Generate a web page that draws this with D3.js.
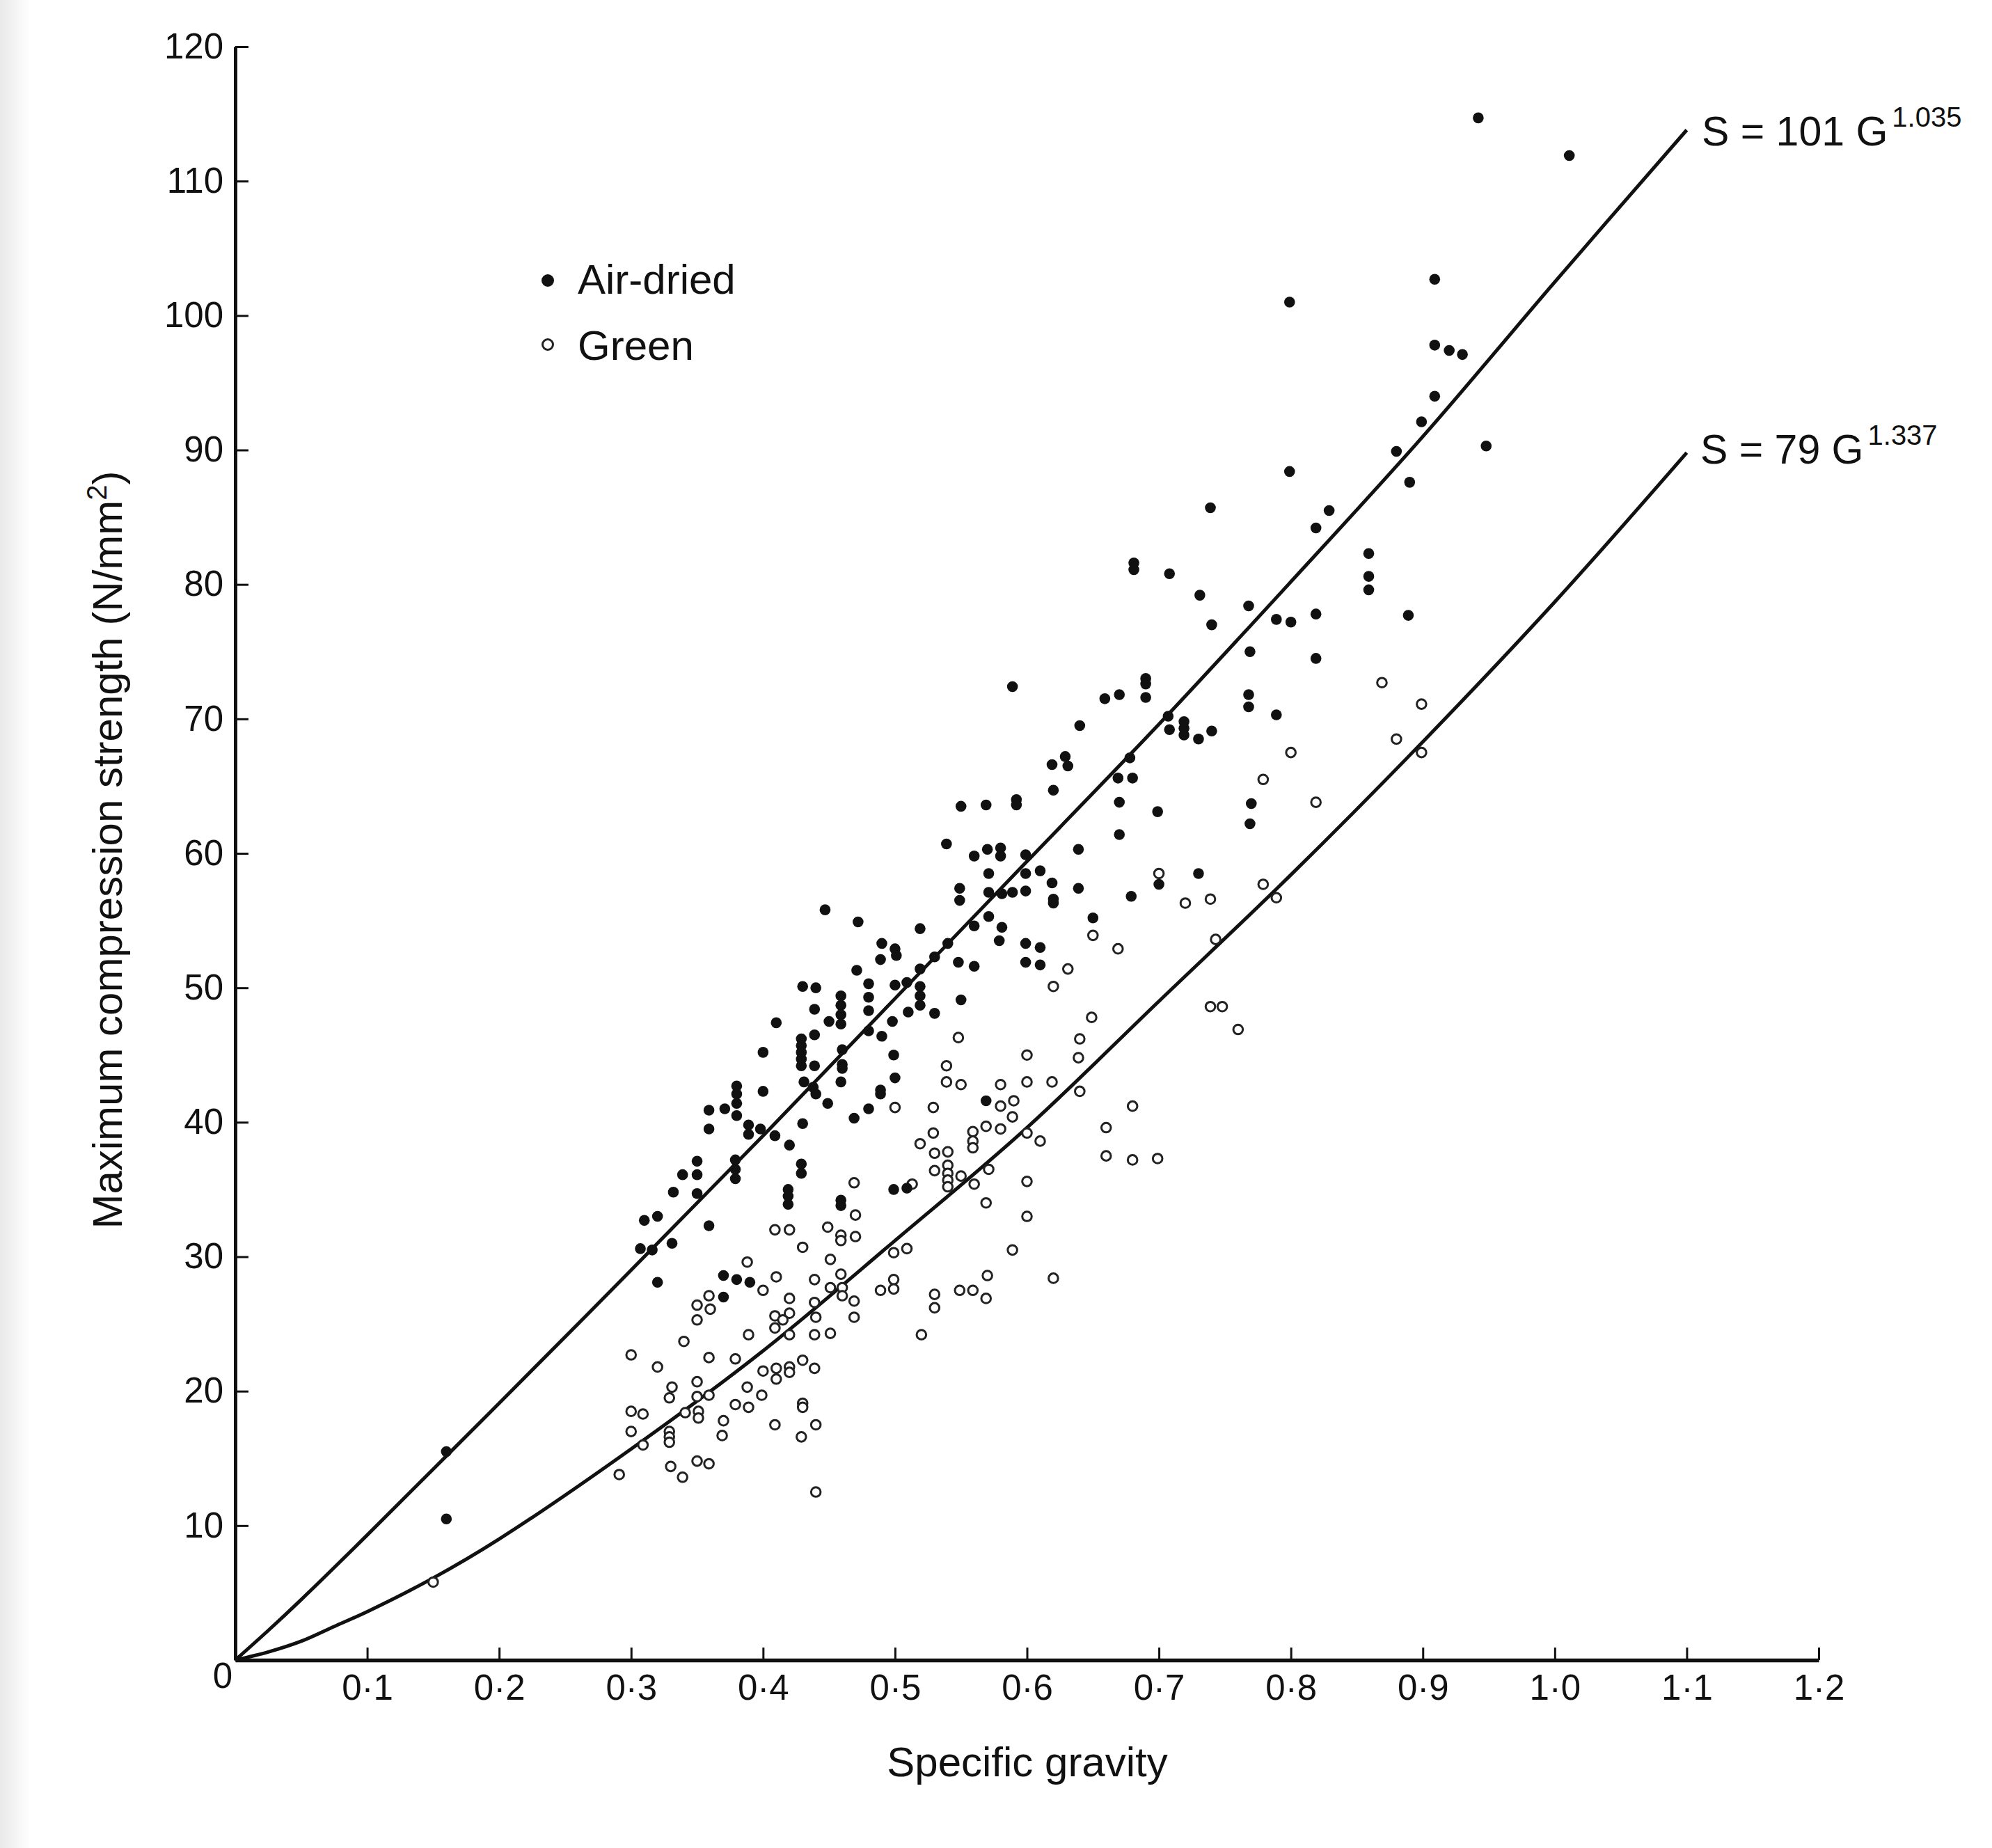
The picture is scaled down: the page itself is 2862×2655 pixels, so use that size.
<!DOCTYPE html>
<html>
<head>
<meta charset="utf-8">
<title>Compression strength vs specific gravity</title>
<script src="https://cdn.jsdelivr.net/npm/d3@7"></script>
<style>
  html, body { margin: 0; padding: 0; background: #fff; }
  svg { display: block; }
</style>
</head>
<body>
<div id="chart"></div>
<script>
// --- data (G = specific gravity, S = N/mm2) ---
const airDried = [
  [0.16,15.5],[0.16,10.5],
  [0.320,28.1],[0.370,28.6],[0.380,28.3],[0.390,28.1],[0.370,27.0],
  [0.490,53.3],[0.500,52.9],[0.501,52.4],[0.489,52.1],[0.471,51.3],[0.430,50.1],[0.440,50.0],
  [0.480,50.3],[0.480,49.3],[0.480,48.3],[0.480,46.8],[0.500,50.2],[0.509,50.4],
  [0.459,49.4],[0.459,48.7],[0.459,48.0],[0.459,47.3],
  [0.439,48.4],[0.450,47.5],[0.410,47.4],[0.498,47.5],[0.490,46.4],[0.510,48.2],
  [0.439,46.5],[0.429,46.2],[0.429,45.7],[0.429,45.2],[0.429,44.7],[0.429,44.2],
  [0.400,45.2],[0.439,44.2],[0.460,45.4],[0.460,44.3],[0.460,44.0],[0.459,43.0],[0.499,45.0],[0.500,43.3],
  [0.431,43.0],[0.438,42.6],[0.440,42.1],[0.449,41.4],[0.489,42.4],[0.489,42.1],[0.480,41.0],[0.469,40.3],
  [0.380,42.7],[0.380,42.1],[0.380,41.4],[0.380,40.5],[0.400,42.3],[0.359,40.9],[0.371,41.0],[0.359,39.5],
  [0.389,39.8],[0.389,39.1],[0.398,39.5],[0.409,39.0],[0.420,38.3],[0.430,39.9],[0.429,36.9],[0.429,36.2],
  [0.419,35.0],[0.419,34.5],[0.419,33.9],[0.459,34.2],[0.459,33.8],[0.499,35.0],[0.509,35.1],
  [0.379,37.2],[0.379,36.5],[0.379,35.8],[0.350,37.1],[0.350,36.1],[0.339,36.1],[0.332,34.8],[0.350,34.7],
  [0.320,33.0],[0.310,32.7],[0.359,32.3],[0.331,31.0],[0.307,30.6],[0.316,30.5],
  [0.447,55.8],[0.472,54.9],
  [0.579,53.5],[0.599,53.3],[0.610,53.0],[0.540,53.3],[0.530,52.3],[0.519,51.4],[0.548,51.9],[0.560,51.6],
  [0.599,51.9],[0.610,51.7],[0.519,50.1],[0.519,49.4],[0.519,48.7],[0.550,49.1],[0.530,48.1],[0.569,41.6],
  [0.740,77.0],[0.589,72.4],[0.690,73.0],[0.690,72.6],[0.690,71.6],[0.659,71.5],[0.670,71.8],[0.640,69.5],
  [0.707,70.2],[0.708,69.2],[0.719,69.8],[0.719,69.3],[0.719,68.8],[0.730,68.5],[0.740,69.1],
  [0.629,67.2],[0.631,66.5],[0.619,66.6],[0.678,67.1],[0.669,65.6],[0.680,65.6],[0.620,64.7],
  [0.550,63.5],[0.569,63.6],[0.592,64.0],[0.592,63.6],[0.670,63.8],[0.699,63.1],[0.670,61.4],
  [0.539,60.7],[0.639,60.3],[0.560,59.8],[0.570,60.3],[0.580,60.4],[0.580,59.8],[0.599,59.9],
  [0.571,58.5],[0.599,58.5],[0.610,58.7],[0.619,57.8],[0.639,57.4],[0.549,57.4],[0.549,56.5],
  [0.571,57.1],[0.581,57.0],[0.589,57.1],[0.599,57.2],[0.620,56.6],[0.620,56.3],[0.730,58.5],[0.700,57.7],
  [0.679,56.8],[0.650,55.2],[0.519,54.4],[0.560,54.6],[0.571,55.3],[0.581,54.5],
  [0.681,81.6],[0.681,81.1],[0.708,80.8],[0.731,79.2],[0.739,85.7],
  [0.942,114.7],[1.011,111.9],[0.909,102.7],[0.799,101.0],[0.909,97.8],[0.920,97.4],[0.930,97.1],
  [0.909,94.0],[0.899,92.1],[0.880,89.9],[0.948,90.3],[0.799,88.4],[0.890,87.6],[0.829,85.5],[0.819,84.2],
  [0.859,82.3],[0.859,80.6],[0.859,79.6],[0.768,78.4],[0.789,77.4],[0.800,77.2],[0.819,77.8],[0.889,77.7],
  [0.769,75.0],[0.819,74.5],[0.768,71.8],[0.768,70.9],[0.789,70.3],[0.770,63.7],[0.769,62.2]
];

const green = [
  [0.15,5.8],
  [0.388,29.6],[0.451,29.8],[0.499,30.3],[0.410,28.5],[0.439,28.3],[0.459,28.7],[0.400,27.5],[0.451,27.7],
  [0.460,27.7],[0.460,27.1],[0.469,26.7],[0.469,25.5],[0.499,28.3],[0.499,27.6],[0.489,27.5],[0.359,27.1],
  [0.350,26.4],[0.360,26.1],[0.350,25.3],[0.420,26.9],[0.420,25.8],[0.420,24.2],[0.409,25.6],[0.409,24.7],
  [0.415,25.3],[0.439,26.6],[0.440,25.5],[0.439,24.2],[0.451,24.3],[0.389,24.2],[0.340,23.7],[0.300,22.7],
  [0.320,21.8],[0.359,22.5],[0.379,22.4],[0.400,21.5],[0.410,21.7],[0.410,20.9],[0.420,21.8],[0.420,21.4],
  [0.430,22.3],[0.439,21.7],[0.350,20.7],[0.331,20.3],[0.329,19.5],[0.388,20.3],[0.399,19.7],[0.359,19.7],
  [0.350,19.6],[0.351,18.5],[0.351,18.0],[0.341,18.4],[0.379,19.0],[0.389,18.8],[0.300,18.5],[0.309,18.3],
  [0.370,17.8],[0.369,16.7],[0.329,17.0],[0.329,16.6],[0.329,16.2],[0.300,17.0],[0.309,16.0],[0.409,17.5],
  [0.430,19.1],[0.430,18.8],[0.440,17.5],[0.429,16.6],[0.330,14.4],[0.339,13.6],[0.350,14.8],[0.359,14.6],
  [0.291,13.8],[0.440,12.5],
  [0.500,41.1],[0.469,35.5],[0.470,33.1],[0.470,31.5],[0.409,32.0],[0.420,32.0],[0.449,32.2],[0.459,31.6],
  [0.459,31.2],[0.430,30.7],[0.509,30.6],
  [0.650,53.9],[0.669,52.9],[0.631,51.4],[0.620,50.1],[0.649,47.8],[0.548,46.3],[0.640,46.2],[0.639,44.8],
  [0.600,45.0],[0.539,44.2],[0.539,43.0],[0.550,42.8],[0.580,42.8],[0.600,43.0],[0.619,43.0],[0.640,42.3],
  [0.580,41.2],[0.590,41.6],[0.589,40.4],[0.529,41.1],[0.569,39.7],[0.580,39.5],[0.600,39.2],[0.610,38.6],
  [0.680,41.2],[0.529,39.2],[0.519,38.4],[0.559,39.3],[0.559,38.6],[0.559,38.1],[0.530,37.7],[0.540,37.8],
  [0.540,36.8],[0.530,36.4],[0.540,36.2],[0.540,35.7],[0.540,35.2],[0.550,36.0],[0.513,35.4],[0.560,35.4],
  [0.571,36.5],[0.600,35.6],[0.660,39.6],[0.660,37.5],[0.680,37.2],[0.699,37.3],[0.569,34.0],[0.600,33.0],
  [0.589,30.5],[0.739,48.6],[0.748,48.6],[0.760,46.9],[0.743,53.6],
  [0.570,28.6],[0.620,28.4],[0.530,27.2],[0.530,26.2],[0.549,27.5],[0.559,27.5],[0.569,26.9],[0.520,24.2],
  [0.700,58.5],[0.720,56.3],[0.739,56.6],
  [0.869,72.7],[0.899,71.1],[0.880,68.5],[0.899,67.5],[0.800,67.5],[0.779,65.5],[0.819,63.8],[0.779,57.7],[0.789,56.7]
];

// fitted curves
const airDriedCurve = [[0,0],[0.025,2.2],[0.05,4.5],[0.1,9.3],[0.15,14.2],[0.2,19.1],[0.3,29.0],[0.4,39.0],
  [0.5,49.2],[0.6,59.4],[0.7,69.6],[0.8,80.2],[0.9,91.0],[1.0,102.5],[1.1,113.8]];
const greenCurve = [[0,0],[0.025,0.6],[0.05,1.4],[0.075,2.5],[0.1,3.6],[0.15,6.1],[0.2,9.0],[0.3,15.7],
  [0.4,23.0],[0.5,31.2],[0.6,39.6],[0.7,49.0],[0.8,58.4],[0.9,68.3],[1.0,78.7],[1.1,89.8]];

const xTicks = [0.1,0.2,0.3,0.4,0.5,0.6,0.7,0.8,0.9,1.0,1.1,1.2];
const yTicks = [10,20,30,40,50,60,70,80,90,100,110,120];

const W = 2862, H = 2655;
const FONT = "'Liberation Sans', Arial, Helvetica, sans-serif";

const svg = d3.select("#chart").append("svg")
  .attr("width", W).attr("height", H)
  .attr("viewBox", [0, 0, W, H])
  .style("font-family", FONT);

// page background, slightly grey binding edge on the left like the scan
const defs = svg.append("defs");
const grad = defs.append("linearGradient").attr("id", "edge").attr("x1", 0).attr("x2", 1);
grad.append("stop").attr("offset", 0).attr("stop-color", "#e9e9e9");
grad.append("stop").attr("offset", 1).attr("stop-color", "#ffffff");
svg.append("rect").attr("width", W).attr("height", H).attr("fill", "#fff");
svg.append("rect").attr("width", 44).attr("height", H).attr("fill", "url(#edge)");

const x = d3.scaleLinear().domain([0, 1.2]).range([338, 2613]);
const y = d3.scaleLinear().domain([0, 120]).range([2385, 67]);

// axes: ticks point inward
const fmtX = d => d3.format(".1f")(d).replace(".", "\u00b7");

const gx = svg.append("g")
  .attr("transform", `translate(0,${y(0)})`)
  .call(d3.axisBottom(x).tickValues(xTicks).tickFormat(fmtX)
    .tickSizeInner(-18).tickSizeOuter(0).tickPadding(20));

const gy = svg.append("g")
  .attr("transform", `translate(${x(0)},0)`)
  .call(d3.axisLeft(y).tickValues(yTicks).tickFormat(d3.format("d"))
    .tickSizeInner(-19).tickSizeOuter(0).tickPadding(17));

gx.select(".domain").attr("stroke", "#111").attr("stroke-width", 5.5);
gy.select(".domain").attr("stroke", "#111").attr("stroke-width", 5);
svg.selectAll(".tick line").attr("stroke", "#111").attr("stroke-width", 3);
svg.selectAll(".tick text")
  .attr("fill", "#111")
  .attr("font-family", FONT)
  .attr("font-size", 51);
gx.selectAll(".tick text").attr("dy", "0.72em");

// shared origin label
svg.append("text")
  .attr("x", x(0) - 18).attr("y", y(0) + 40)
  .attr("text-anchor", "middle")
  .attr("font-size", 51).attr("fill", "#111")
  .text("0");

// fitted curves
const line = d3.line()
  .x(d => x(d[0])).y(d => y(d[1]))
  .curve(d3.curveCatmullRom.alpha(0.5));

svg.append("path").datum(airDriedCurve)
  .attr("d", line).attr("fill", "none")
  .attr("stroke", "#111").attr("stroke-width", 5);
svg.append("path").datum(greenCurve)
  .attr("d", line).attr("fill", "none")
  .attr("stroke", "#111").attr("stroke-width", 5);

// points
svg.append("g").selectAll("circle")
  .data(green).join("circle")
  .attr("cx", d => x(d[0])).attr("cy", d => y(d[1]))
  .attr("r", 6.8)
  .attr("fill", "#fff").attr("stroke", "#222").attr("stroke-width", 3);

svg.append("g").selectAll("circle")
  .data(airDried).join("circle")
  .attr("cx", d => x(d[0])).attr("cy", d => y(d[1]))
  .attr("r", 7.8)
  .attr("fill", "#111");

// equation labels at the curve ends
const eqs = [
  { x: 2445, y: 209, main: "S = 101 G", sup: "1.035" },
  { x: 2443, y: 666, main: "S = 79 G", sup: "1.337" }
];
eqs.forEach(e => {
  const t = svg.append("text")
    .attr("x", e.x).attr("y", e.y)
    .attr("font-size", 59).attr("fill", "#111");
  t.append("tspan").text(e.main);
  t.append("tspan").attr("dx", 6).attr("dy", -27).attr("font-size", 40).text(e.sup);
});

// legend
const legend = svg.append("g");
legend.append("circle").attr("cx", 787).attr("cy", 403).attr("r", 9).attr("fill", "#111");
legend.append("text").attr("x", 830).attr("y", 422)
  .attr("font-size", 60).attr("fill", "#111").text("Air-dried");
legend.append("circle").attr("cx", 787).attr("cy", 495).attr("r", 7.5)
  .attr("fill", "#fff").attr("stroke", "#222").attr("stroke-width", 3);
legend.append("text").attr("x", 830).attr("y", 517)
  .attr("font-size", 60).attr("fill", "#111").text("Green");

// axis titles
svg.append("text")
  .attr("x", 1476).attr("y", 2552)
  .attr("text-anchor", "middle")
  .attr("font-size", 60).attr("fill", "#111")
  .text("Specific gravity");

const yt = svg.append("text")
  .attr("transform", "translate(175,1221) rotate(-90)")
  .attr("text-anchor", "middle")
  .attr("font-size", 60).attr("fill", "#111");
yt.append("tspan").text("Maximum compression strength (N/mm");
yt.append("tspan").attr("dy", -22).attr("font-size", 40).text("2");
yt.append("tspan").attr("dy", 22).text(")");
</script>
</body>
</html>
